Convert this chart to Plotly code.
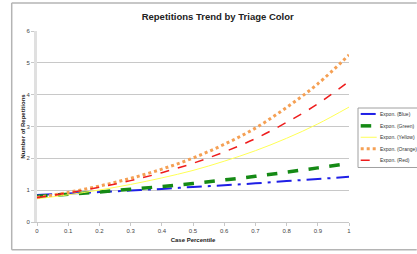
import plotly.graph_objects as go

# ---- data ----
case_percentile = [0.0, 0.1, 0.2, 0.3, 0.4, 0.5, 0.6, 0.7, 0.8, 0.9, 1.0]
blue   = [0.85, 0.895, 0.94, 0.99, 1.04, 1.10, 1.155, 1.215, 1.285, 1.35, 1.42]
green  = [0.80, 0.87, 0.945, 1.03, 1.115, 1.21, 1.32, 1.435, 1.565, 1.70, 1.84]
yellow = [0.73, 0.855, 1.005, 1.18, 1.385, 1.62, 1.91, 2.24, 2.63, 3.08, 3.61]
orange = [0.77, 0.93, 1.13, 1.37, 1.66, 2.01, 2.44, 2.95, 3.60, 4.34, 5.25]
red    = [0.77, 0.915, 1.09, 1.30, 1.55, 1.845, 2.20, 2.62, 3.13, 3.71, 4.42]
series_names = ["Expon. (Blue)", "Expon. (Green)", "Expon. (Yellow)", "Expon. (Orange)", "Expon. (Red)"]
x_ticks = [0, 0.1, 0.2, 0.3, 0.4, 0.5, 0.6, 0.7, 0.8, 0.9, 1]
x_tick_labels = ["0", "0.1", "0.2", "0.3", "0.4", "0.5", "0.6", "0.7", "0.8", "0.9", "1"]
y_ticks = [0, 1, 2, 3, 4, 5, 6]

W, H = 417, 254
L, R, T, B = 37.3, 349.3, 31.3, 224.0

FONT = "Liberation Sans Narrow, Liberation Sans, Arial, sans-serif"

styles = [
    dict(color="#1f1fe6", width=2, dash="longdashdot"),
    dict(color="#158a15", width=3.5, dash="dash"),
    dict(color="#ffff55", width=1, dash="solid"),
    dict(color="#f5a054", width=3, dash="dot"),
    dict(color="#ee1c1c", width=1.5, dash="dash"),
]

fig = go.Figure()
for name, ys, st in zip(series_names, [blue, green, yellow, orange, red], styles):
    fig.add_trace(go.Scatter(x=case_percentile, y=ys, mode="lines", name=name, showlegend=False,
                             line=dict(color=st["color"], width=st["width"], dash=st["dash"], shape="spline")))

def px2paper_x(px):
    return (px - L) / (R - L)

def px2paper_y(py):
    return (B - py) / (B - T)

# outer chart border (left, top, bottom edges; right edge lies outside the view)
border = dict(color="#b4b4b4", width=1.5)
fig.add_shape(type="line", xref="paper", yref="paper", x0=px2paper_x(12), x1=px2paper_x(12),
              y0=px2paper_y(252), y1=px2paper_y(3), line=border, layer="above")
fig.add_shape(type="line", xref="paper", yref="paper", x0=px2paper_x(12), x1=px2paper_x(417),
              y0=px2paper_y(3), y1=px2paper_y(3), line=border, layer="above")
fig.add_shape(type="line", xref="paper", yref="paper", x0=px2paper_x(12), x1=px2paper_x(417),
              y0=px2paper_y(252), y1=px2paper_y(252), line=border, layer="above")

# legend (drawn compactly to match the reference spacing)
fig.add_shape(type="rect", xref="paper", yref="paper",
              x0=px2paper_x(358.3), x1=px2paper_x(425), y0=px2paper_y(169), y1=px2paper_y(109),
              line=dict(color="#a0a0a0", width=1), fillcolor="white", layer="above")
row_y = [115, 127, 138.5, 150, 161.7]
for name, st, ry in zip(series_names, styles, row_y):
    fig.add_shape(type="line", xref="paper", yref="paper",
                  x0=px2paper_x(361), x1=px2paper_x(377), y0=px2paper_y(ry), y1=px2paper_y(ry),
                  line=dict(color=st["color"], width=st["width"], dash=st["dash"]), layer="above")
    fig.add_annotation(text=name, xref="paper", yref="paper", x=px2paper_x(378.5), y=px2paper_y(ry),
                       xanchor="left", yanchor="middle", showarrow=False,
                       font=dict(family=FONT, size=5, color="#333"))

fig.update_layout(
    width=W, height=H,
    margin=dict(l=L, r=W - R, t=T, b=H - B, pad=0),
    paper_bgcolor="white", plot_bgcolor="white",
    title=dict(text="<b>Repetitions Trend by Triage Color</b>", x=px2paper_x(218), xref="paper",
               xanchor="center", y=1 - 17 / H, yanchor="middle",
               font=dict(family=FONT, size=9.5, color="#222")),
    font=dict(family=FONT, size=6, color="#444"),
    showlegend=False,
)
fig.update_xaxes(range=[0, 1], tickvals=x_ticks, ticktext=x_tick_labels,
                 showgrid=False, zeroline=False, showline=True, linecolor="#c8c8c8", linewidth=1,
                 ticks="outside", ticklen=3, tickcolor="#c8c8c8",
                 tickfont=dict(size=6, color="#444"),
                 title=dict(text="<b>Case Percentile</b>", font=dict(size=6, color="#222"), standoff=4))
fig.update_yaxes(range=[0, 6], tickvals=y_ticks,
                 showgrid=True, gridcolor="#c8c8c8", gridwidth=1, zeroline=False,
                 showline=True, linecolor="#e0e0e0", linewidth=3,
                 ticks="outside", ticklen=3, tickcolor="#c8c8c8",
                 tickfont=dict(size=6, color="#444"),
                 title=dict(text="<b>Number of Repetitions</b>", font=dict(size=6, color="#222"), standoff=1))

fig.write_html("out.html", config={"displayModeBar": False},
               post_script="document.body.style.margin='0';document.body.style.overflow='hidden';document.documentElement.style.overflow='hidden';")
